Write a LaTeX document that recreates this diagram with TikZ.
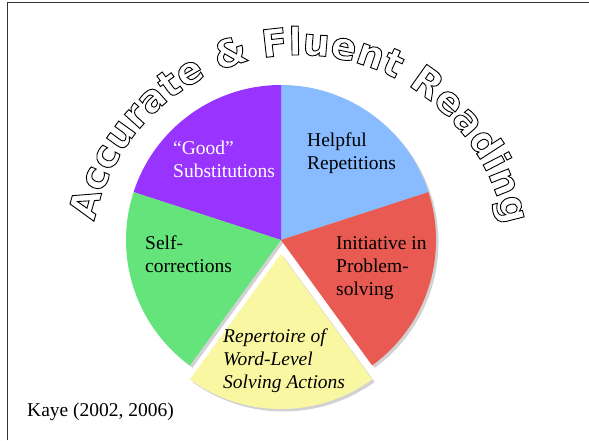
\documentclass[tikz,border=0pt]{standalone}
\usepackage{fontspec}
\setmainfont{Liberation Serif}
\newfontfamily\titlefont{DejaVu Sans}
\usetikzlibrary{decorations.text}
\definecolor{sliceblue}{RGB}{136,187,255}
\definecolor{slicepurple}{RGB}{153,51,255}
\definecolor{slicegreen}{RGB}{100,228,122}
\definecolor{slicered}{RGB}{232,90,82}
\definecolor{sliceyellow}{RGB}{250,247,162}
\definecolor{framegray}{RGB}{50,50,50}
% hollow (stroked only) glyphs for the arched heading
\newcommand\hollowstyle{\titlefont\bfseries\fontsize{38}{40}\selectfont\special{pdf:literal direct 1 Tr 0.9 w}}
\begin{document}
\begin{tikzpicture}[x=1pt,y=1pt,
  slicelabel/.style={font=\fontsize{19.5}{23}\selectfont, align=left, anchor=base west, inner sep=0pt},
  sliceshadow/.style={fill=gray!35},
  pierad/.style={radius=155}
]
\useasboundingbox (0,0) rectangle (589,440);
% frame
\draw[framegray, line width=1pt] (7,0) -- (7,437) -- (589,437);

\coordinate (c) at (281,200);
\coordinate (cy) at (281,186);
\coordinate (tc) at (299,176);

% drop shadows
\foreach \a/\b in {18/90, 90/162, 162/234, -54/18} {
  \fill[sliceshadow] ([xshift=2.5pt,yshift=-2.5pt]c) -- ++(\a:155) arc[start angle=\a, end angle=\b, pierad] -- cycle;
}
\fill[sliceshadow] ([xshift=2.5pt,yshift=-2.5pt]cy) -- ++(234:155) arc[start angle=234, end angle=306, pierad] -- cycle;

% slices
\fill[sliceblue]   (c) -- ++(18:155)  arc[start angle=18,  end angle=90,  pierad] -- cycle;
\fill[slicepurple] (c) -- ++(90:155)  arc[start angle=90,  end angle=162, pierad] -- cycle;
\fill[slicegreen]  (c) -- ++(162:155) arc[start angle=162, end angle=234, pierad] -- cycle;
\fill[slicered]    (c) -- ++(-54:155) arc[start angle=-54, end angle=18,  pierad] -- cycle;
\fill[sliceyellow] (cy) -- ++(234:155) arc[start angle=234, end angle=306, pierad] -- cycle;

% slice labels (anchored at the baseline of the last line)
\node[slicelabel, text=white] (good) at (173,262) {``Good''\\Substitutions};
\node[slicelabel] (helpful) at (307,271) {Helpful\\Repetitions};
\node[slicelabel] (selfcorr) at (145,168) {Self-\\corrections};
\node[slicelabel] (initiative) at (336,145) {Initiative in\\Problem-\\solving};
\node[slicelabel, font=\fontsize{19.5}{23}\selectfont\itshape] (repertoire) at (223,52) {Repertoire of\\Word-Level\\Solving Actions};
\node[slicelabel] (kaye) at (27,24) {Kaye (2002, 2006)};

% arched heading, drawn last
\path[decorate, decoration={text along path,
    text={|\hollowstyle|Accurate {\&} Fluent Reading}, text align=center}]
  ([shift={(172:209)}]tc) arc[start angle=172, end angle=7, radius=209];
\end{tikzpicture}
\end{document}
